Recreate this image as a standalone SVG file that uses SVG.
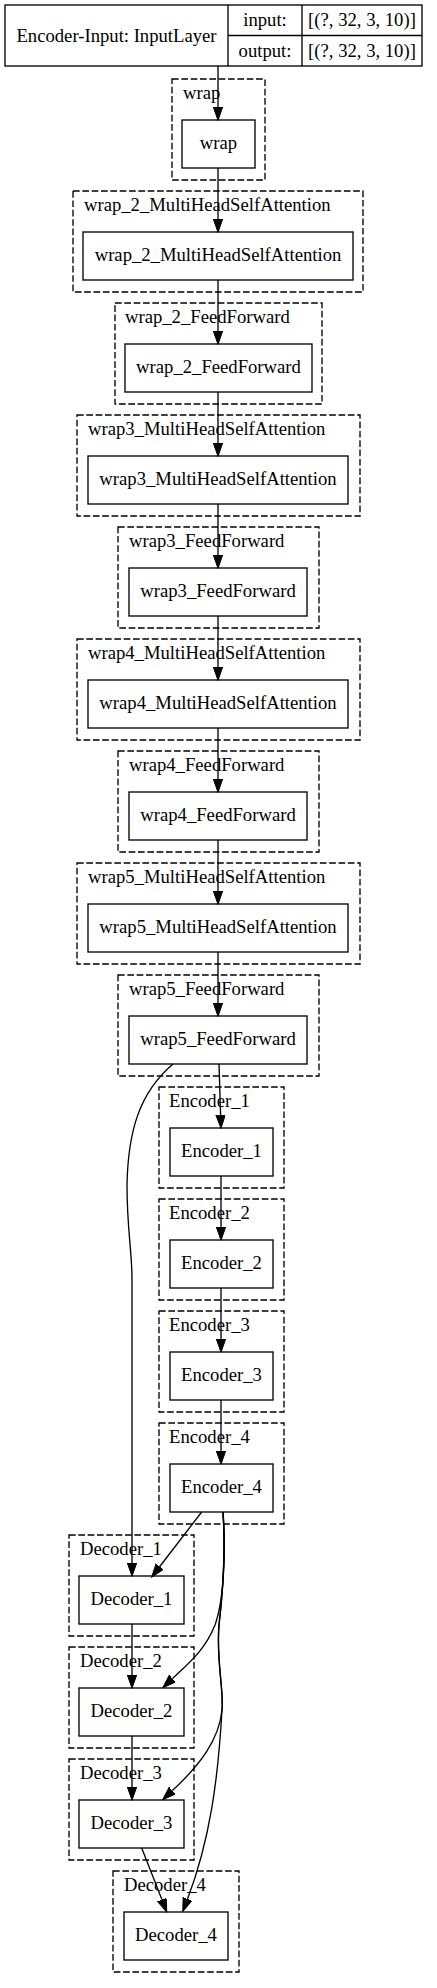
<svg xmlns="http://www.w3.org/2000/svg" width="437" height="1988" viewBox="0 0 437 1988">
<style>
text{font-family:"Liberation Serif","Times New Roman",serif;font-size:18.67px;fill:#000}
.c{text-anchor:middle}
.n{fill:none;stroke:#000;stroke-width:1.33}
.cl{fill:none;stroke:#000;stroke-width:1.33;stroke-dasharray:6.67,2.67}
.e{fill:none;stroke:#000;stroke-width:1.33;marker-end:url(#ah)}
</style>
<defs>
<marker id="ah" markerUnits="userSpaceOnUse" markerWidth="14" markerHeight="10" viewBox="0 0 14 10" refX="0" refY="4.67" orient="auto">
<path d="M0,0 L13.3,4.67 L0,9.33 z" fill="#000" stroke="#000" stroke-width="1"/>
</marker>
</defs>
<rect width="437" height="1988" fill="#fff"/>

<g id="input">
<rect class="n" x="5" y="5" width="417" height="61"/>
<line class="n" x1="228" y1="5" x2="228" y2="66"/>
<line class="n" x1="302" y1="5" x2="302" y2="66"/>
<line class="n" x1="228" y1="35.5" x2="422" y2="35.5"/>
<text class="c" x="116.5" y="42">Encoder-Input: InputLayer</text>
<text class="c" x="265" y="26">input:</text>
<text class="c" x="265" y="57">output:</text>
<text class="c" x="362" y="26">[(?, 32, 3, 10)]</text>
<text class="c" x="362" y="57">[(?, 32, 3, 10)]</text>
</g>

<g id="wrap">
<rect class="cl" x="172" y="79" width="93" height="101"/>
<text x="183" y="99">wrap</text>
<rect class="n" x="182" y="120" width="73" height="48"/>
<text class="c" x="218.5" y="149">wrap</text>
</g>

<g id="wrap_2_MultiHeadSelfAttention">
<rect class="cl" x="73" y="191" width="290" height="101"/>
<text x="84" y="211">wrap_2_MultiHeadSelfAttention</text>
<rect class="n" x="83" y="232" width="270" height="48"/>
<text class="c" x="218" y="261">wrap_2_MultiHeadSelfAttention</text>
</g>

<g id="wrap_2_FeedForward">
<rect class="cl" x="115" y="303" width="207" height="101"/>
<text x="125" y="323">wrap_2_FeedForward</text>
<rect class="n" x="125" y="344" width="187" height="48"/>
<text class="c" x="218.5" y="373">wrap_2_FeedForward</text>
</g>

<g id="wrap3_MultiHeadSelfAttention">
<rect class="cl" x="77" y="415" width="283" height="101"/>
<text x="88" y="435">wrap3_MultiHeadSelfAttention</text>
<rect class="n" x="88" y="456" width="260" height="48"/>
<text class="c" x="218" y="485">wrap3_MultiHeadSelfAttention</text>
</g>

<g id="wrap3_FeedForward">
<rect class="cl" x="118" y="527" width="201" height="101"/>
<text x="129" y="547">wrap3_FeedForward</text>
<rect class="n" x="129" y="568" width="178" height="48"/>
<text class="c" x="218" y="597">wrap3_FeedForward</text>
</g>

<g id="wrap4_MultiHeadSelfAttention">
<rect class="cl" x="77" y="639" width="283" height="101"/>
<text x="88" y="659">wrap4_MultiHeadSelfAttention</text>
<rect class="n" x="88" y="680" width="260" height="48"/>
<text class="c" x="218" y="709">wrap4_MultiHeadSelfAttention</text>
</g>

<g id="wrap4_FeedForward">
<rect class="cl" x="118" y="751" width="201" height="101"/>
<text x="129" y="771">wrap4_FeedForward</text>
<rect class="n" x="129" y="792" width="178" height="48"/>
<text class="c" x="218" y="821">wrap4_FeedForward</text>
</g>

<g id="wrap5_MultiHeadSelfAttention">
<rect class="cl" x="77" y="863" width="283" height="101"/>
<text x="88" y="883">wrap5_MultiHeadSelfAttention</text>
<rect class="n" x="88" y="904" width="260" height="48"/>
<text class="c" x="218" y="933">wrap5_MultiHeadSelfAttention</text>
</g>

<g id="wrap5_FeedForward">
<rect class="cl" x="118" y="975" width="201" height="101"/>
<text x="129" y="995">wrap5_FeedForward</text>
<rect class="n" x="129" y="1016" width="178" height="48"/>
<text class="c" x="218" y="1045">wrap5_FeedForward</text>
</g>

<g id="Encoder_1">
<rect class="cl" x="159" y="1087" width="125" height="101"/>
<text x="169" y="1107">Encoder_1</text>
<rect class="n" x="170" y="1128" width="103" height="48"/>
<text class="c" x="221.5" y="1157">Encoder_1</text>
</g>

<g id="Encoder_2">
<rect class="cl" x="159" y="1199" width="125" height="101"/>
<text x="169" y="1219">Encoder_2</text>
<rect class="n" x="170" y="1240" width="103" height="48"/>
<text class="c" x="221.5" y="1269">Encoder_2</text>
</g>

<g id="Encoder_3">
<rect class="cl" x="159" y="1311" width="125" height="101"/>
<text x="169" y="1331">Encoder_3</text>
<rect class="n" x="170" y="1352" width="103" height="48"/>
<text class="c" x="221.5" y="1381">Encoder_3</text>
</g>

<g id="Encoder_4">
<rect class="cl" x="159" y="1423" width="125" height="101"/>
<text x="169" y="1443">Encoder_4</text>
<rect class="n" x="170" y="1464" width="103" height="48"/>
<text class="c" x="221.5" y="1493">Encoder_4</text>
</g>

<g id="Decoder_1">
<rect class="cl" x="69" y="1535" width="125" height="101"/>
<text x="80" y="1555">Decoder_1</text>
<rect class="n" x="79" y="1576" width="105" height="48"/>
<text class="c" x="131.5" y="1605">Decoder_1</text>
</g>

<g id="Decoder_2">
<rect class="cl" x="69" y="1647" width="125" height="101"/>
<text x="80" y="1667">Decoder_2</text>
<rect class="n" x="79" y="1688" width="105" height="48"/>
<text class="c" x="131.5" y="1717">Decoder_2</text>
</g>

<g id="Decoder_3">
<rect class="cl" x="69" y="1759" width="125" height="101"/>
<text x="80" y="1779">Decoder_3</text>
<rect class="n" x="79" y="1800" width="105" height="48"/>
<text class="c" x="131.5" y="1829">Decoder_3</text>
</g>

<g id="Decoder_4">
<rect class="cl" x="113" y="1871" width="126" height="101"/>
<text x="124" y="1891">Decoder_4</text>
<rect class="n" x="124" y="1912" width="104" height="48"/>
<text class="c" x="176" y="1941">Decoder_4</text>
</g>

<g id="connectors">
<path class="e" d="M218,66 V107"/>
<path class="e" d="M218,168 V219"/>
<path class="e" d="M218,280 V331"/>
<path class="e" d="M218,392 V443"/>
<path class="e" d="M218,504 V555"/>
<path class="e" d="M218,616 V667"/>
<path class="e" d="M218,728 V779"/>
<path class="e" d="M218,840 V891"/>
<path class="e" d="M218,952 V1003"/>
<path class="e" d="M219,1064 L220.6,1115"/>
<path class="e" d="M221,1176 V1227"/>
<path class="e" d="M221,1288 V1339"/>
<path class="e" d="M221,1400 V1451"/>
<path class="e" d="M173,1064 C140,1092 128,1130 127,1185 C127,1230 132,1250 132,1280 L132,1563"/>
<path class="e" d="M201.7,1512 L159.8,1566.5"/>
<path class="e" d="M223,1512 C226,1550 224,1600 215,1625 C205,1650 190,1662 172.5,1678.6"/>
<path class="e" d="M223,1512 C226,1560 222,1600 219,1625 C216,1660 224,1690 222,1710 C219,1740 200,1765 172.4,1790.6"/>
<path class="e" d="M223,1512 C226,1560 222,1600 219,1625 C216,1660 224,1690 222,1710 C218,1780 210,1840 187.5,1899"/>
<path class="e" d="M132,1624 V1675"/>
<path class="e" d="M132,1736 V1787"/>
<path class="e" d="M141.7,1848 L161.9,1899.6"/>
</g>
</svg>
